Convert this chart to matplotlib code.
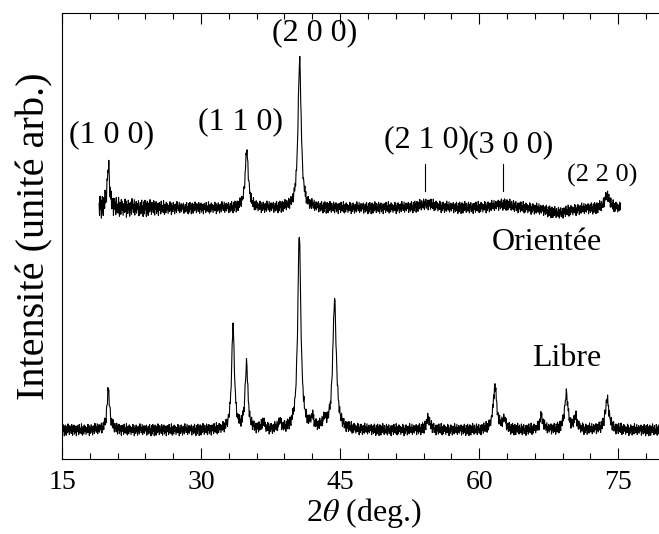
import numpy as np
import matplotlib
matplotlib.use("Agg")
import matplotlib.pyplot as plt

plt.rcParams['font.family'] = ['Liberation Serif', 'DejaVu Serif']
plt.rcParams['mathtext.fontset'] = 'stix'

# peaks: position (2theta), height above background, fwhm
libre_pos = [20.0, 33.45, 34.9, 36.7, 38.5, 40.6, 42.0, 43.3, 44.4, 54.5, 61.7, 62.7, 66.7, 69.4, 70.4, 73.8]
libre_h = [40, 104, 66, 8, 8, 196, 10, 8, 130, 11, 44, 10, 14, 35, 12, 30]
libre_w = [0.35, 0.35, 0.35, 0.3, 0.3, 0.4, 0.4, 0.4, 0.45, 0.5, 0.45, 0.4, 0.4, 0.45, 0.4, 0.5]
libre_bg = 29

orient_pos = [20.0, 34.93, 40.63, 54.4, 62.7, 68.5, 73.8]
orient_h = [42, 58, 150, 4, 4, -5, 14]
orient_w = [0.3, 0.4, 0.4, 2.0, 2.5, 3.0, 0.6]
orient_bg = 251

# noise texture
jitter = [0.3, -0.7, 0.9, -0.2, 0.5, -1.0, 0.1, 0.8, -0.4, -0.9, 0.6, 0.2, -0.5, 1.0, -0.3, 0.4,
          -0.8, 0.7, -0.1, 0.0, -0.6, 0.9, 0.3, -0.9, 0.5, -0.2, 0.8, -0.7, 0.1, -0.4, 0.6, -1.0,
          0.2, 0.7, -0.3, 0.4, -0.8, 0.9, -0.5, 0.0, 0.3, -0.6, 1.0, -0.2, -0.9, 0.5, 0.1, -0.7,
          0.8, -0.3, 0.6, -0.1, -0.8, 0.4, 0.2, -0.5, 0.9, -0.4, 0.7, -1.0, 0.0, 0.3, -0.6, 0.8,
          -0.2, 0.5, -0.9, 0.1, 0.6, -0.3, -0.7, 1.0, -0.1, 0.4, -0.5, 0.2, 0.9, -0.8, 0.3, -0.4,
          0.7, -0.6, 0.0, 0.5, -0.2, 0.8, -0.9, 0.1, -0.3, 0.6, -0.7, 0.4, 0.9, -0.5, 0.2, -1.0, 0.7]

hkl = ['(1 0 0)', '(1 1 0)', '(2 0 0)', '(2 1 0)', '(3 0 0)', '(2 2 0)']
hkl_x = [20.4, 34.3, 42.2, 54.3, 63.4, 73.3]
hkl_y = [324, 337, 426, 319, 314, 284]
marks_x = [54.2, 62.6]


def pattern(x, pos, h, w, bg, amp):
    y = np.full_like(x, bg, dtype=float)
    for c, hh, ww in zip(pos, h, w):
        y += hh / (1 + ((x - c) / (ww / 2)) ** 2)
    n = np.resize(np.array(jitter), len(x))
    return y + amp * n


x_lib = np.arange(15, 80.01, 0.05)
y_lib = pattern(x_lib, libre_pos, libre_h, libre_w, libre_bg, 6)
x_or = np.arange(19.0, 75.3, 0.05)
amp_or = np.interp(x_or, [19, 21, 25, 28], [12, 10, 8, 6])
y_or = pattern(x_or, orient_pos, orient_h, orient_w, orient_bg, amp_or)

fig = plt.figure(figsize=(6.59, 5.34), dpi=100)
ax = fig.add_axes([62 / 659, 75 / 534, 602.6 / 659, 446 / 534])
ax.plot(x_lib, y_lib, color='black', lw=0.8)
ax.plot(x_or, y_or, color='black', lw=0.8)

for t, tx, ty in zip(hkl, hkl_x, hkl_y):
    size = 19 if t == '(2 2 0)' else 23
    ax.text(tx, ty, t, ha='center', va='center', fontsize=size)
for mx in marks_x:
    ax.plot([mx, mx], [268, 295], color='black', lw=0.8)

ax.text(73.2, 216, 'Orientée', ha='right', va='center', fontsize=23)
ax.text(73.2, 101, 'Libre', ha='right', va='center', fontsize=23)

ax.set_xlim(15, 80)
ax.set_ylim(0, 446)
ax.set_xticks([15, 30, 45, 60, 75])
ax.set_xticks(np.arange(18, 80, 3), minor=True)
ax.set_yticks([])
ax.tick_params(axis='x', which='both', direction='in', top=True, labelsize=20, pad=8)
ax.tick_params(axis='x', which='major', length=7.7, width=0.8)
ax.tick_params(axis='x', which='minor', length=4.1, width=0.8)
for s in ax.spines.values():
    s.set_linewidth(0.8)
ax.set_xlabel('2$\\theta$ (deg.)', fontsize=23, labelpad=1)
ax.set_ylabel('Intensité (unité arb.)', fontsize=29, labelpad=6)

fig.savefig('out.png', dpi=100)
